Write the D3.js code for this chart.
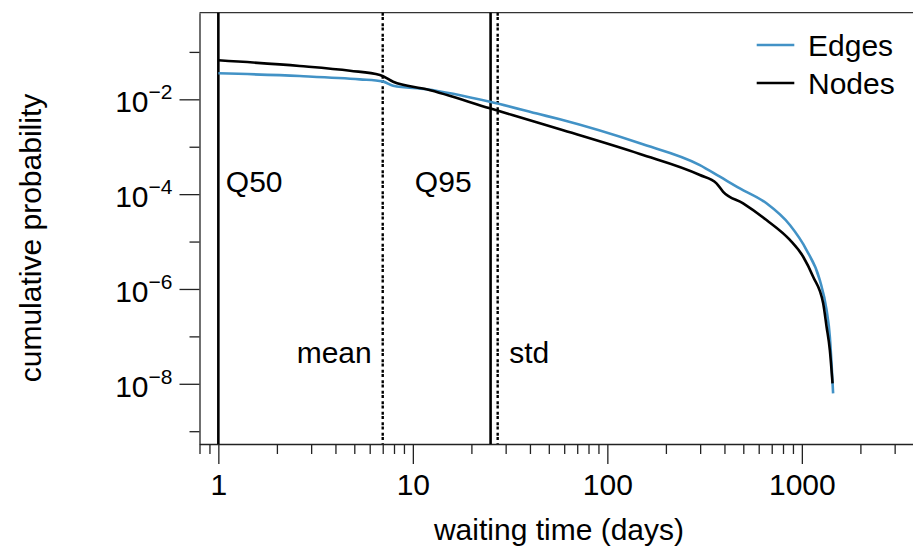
<!DOCTYPE html>
<html lang="en">
<head>
    <meta charset="UTF-8">
    <title>Waiting time distribution</title>
    <style>
        body { margin: 0; background: #fff; }
        text { font-family: "Liberation Sans", Arial, Helvetica, sans-serif; fill: #000; }
    </style>
</head>
<body>
    <svg id="chart" width="913" height="550"></svg>

    <script src="https://cdn.jsdelivr.net/npm/d3@7"></script>
    <script>
        // cumulative distribution (days, probability)
        var edgeDays = [1, 2.62, 5.34, 6.99, 7.92, 11.76, 24.9, 45.0, 57.0, 147, 299, 379, 480, 658, 868, 1057, 1237, 1340, 1393, 1421, 1448];
        var edgeProb = [0.0354, 0.0310, 0.0264, 0.0239, 0.0194, 0.0163, 0.00889, 0.00483, 0.00378, 0.00118,
            4.11e-4, 2.33e-4, 1.32e-4, 6.40e-5, 2.23e-5, 6.62e-6, 1.54e-6, 3.59e-7, 9.82e-8, 2.69e-8, 6.27e-9];

        var nodeDays = [1, 2.62, 4.75, 6.77, 7.92, 11.76, 24.9, 45.0, 57.0, 147, 299, 364, 394, 499, 658, 868, 1016, 1143, 1287, 1340, 1393, 1438];
        var nodeProb = [0.0665, 0.0505, 0.0401, 0.0326, 0.0235, 0.0163, 0.00646, 0.00312, 0.00233, 7.02e-4,
            2.53e-4, 1.69e-4, 1.12e-4, 6.40e-5, 2.84e-5, 1.08e-5, 4.78e-6, 1.81e-6, 4.97e-7, 1.60e-7, 5.14e-8, 1.02e-8];

        var seriesNames = ["Edges", "Nodes"];
        var seriesColors = ["#4292c6", "#000000"];

        var markerNames = ["Q50", "mean", "Q95", "std"];
        var markerValues = [1, 7, 25.1, 27.3];
        var markerDotted = [false, true, false, true];

        var xMajorTicks = [1, 10, 100, 1000];
        var xMinorTicks = [0.8, 0.9, 2, 3, 4, 5, 6, 7, 8, 9, 20, 30, 40, 50, 60, 70, 80, 90,
            200, 300, 400, 500, 600, 700, 800, 900, 2000, 3000];
        var yMajorTicks = [1e-2, 1e-4, 1e-6, 1e-8];
        var yMinorTicks = [1e-1, 1e-3, 1e-5, 1e-7, 1e-9];

        var svg = d3.select("#chart");

        var plotLeft = 199.5, plotTop = 12.7, plotBottom = 444;

        var x = d3.scaleLog()
            .domain([0.8, 4000])
            .range([plotLeft, plotLeft + 194.5 * Math.log10(4000 / 0.8)]);

        var y = d3.scaleLog()
            .domain([Math.pow(10, -9.27), Math.pow(10, -0.173)])
            .range([plotBottom, plotTop]);

        var axisColor = "#222";

        // minor ticks
        svg.append("g")
            .attr("transform", "translate(0," + plotBottom + ")")
            .call(d3.axisBottom(x).tickValues(xMinorTicks).tickSize(10).tickFormat(""))
            .call(g => g.select(".domain").remove());

        svg.append("g")
            .attr("transform", "translate(" + plotLeft + ",0)")
            .call(d3.axisLeft(y).tickValues(yMinorTicks).tickSize(10).tickFormat(""))
            .call(g => g.select(".domain").remove());

        // major x axis
        var xAxis = svg.append("g")
            .attr("transform", "translate(0," + plotBottom + ")")
            .call(d3.axisBottom(x).tickValues(xMajorTicks).tickSize(20).tickSizeOuter(0)
                .tickPadding(10).tickFormat(d => String(d)));
        xAxis.selectAll("text").style("font-size", "30px").attr("font-family", null);

        // major y axis with superscript exponents
        var yAxis = svg.append("g")
            .attr("transform", "translate(" + plotLeft + ",0)")
            .call(d3.axisLeft(y).tickValues(yMajorTicks).tickSize(20).tickSizeOuter(0)
                .tickPadding(7).tickFormat(""));
        yAxis.selectAll(".tick text")
            .attr("dy", "0.42em")
            .style("font-size", "30px")
            .attr("font-family", null)
            .each(function (d) {
                var t = d3.select(this);
                t.text("10");
                t.append("tspan")
                    .attr("dy", -13)
                    .style("font-size", "21px")
                    .text("\u2212" + Math.round(-Math.log10(d)));
            });

        svg.selectAll(".domain, .tick line")
            .attr("stroke", axisColor)
            .attr("stroke-width", 1.3);

        // top frame line
        svg.append("line")
            .attr("x1", plotLeft).attr("x2", x.range()[1])
            .attr("y1", plotTop).attr("y2", plotTop)
            .attr("stroke", "#333")
            .attr("stroke-width", 1.3);

        // statistic markers
        svg.selectAll(".marker")
            .data(markerValues)
            .enter()
            .append("line")
            .attr("class", "marker")
            .attr("x1", d => x(d)).attr("x2", d => x(d))
            .attr("y1", plotTop).attr("y2", plotBottom)
            .attr("stroke", "#000")
            .attr("stroke-width", (d, i) => markerDotted[i] ? 2.4 : 2.6)
            .attr("stroke-dasharray", (d, i) => markerDotted[i] ? "3,1.2,3,3.3" : null);

        var labelDx = [7.5, -11, -19, 11.6];
        var labelAnchor = ["start", "end", "end", "start"];
        var labelY = [192, 363.3, 192, 363.3];
        svg.selectAll(".marker-label")
            .data(markerNames)
            .enter()
            .append("text")
            .attr("class", "marker-label")
            .attr("x", (d, i) => x(markerValues[i]) + labelDx[i])
            .attr("y", (d, i) => labelY[i])
            .attr("text-anchor", (d, i) => labelAnchor[i])
            .style("font-size", "30px")
            .text(d => d);

        // curves
        var line = d3.line()
            .x(d => x(d[0]))
            .y(d => y(d[1]))
            .curve(d3.curveMonotoneX);

        var series = [
            d3.zip(edgeDays, edgeProb),
            d3.zip(nodeDays, nodeProb)
        ];

        svg.selectAll(".curve")
            .data(series)
            .enter()
            .append("path")
            .attr("class", "curve")
            .attr("d", line)
            .attr("fill", "none")
            .attr("stroke", (d, i) => seriesColors[i])
            .attr("stroke-width", 2.6)
            .attr("stroke-linejoin", "round");

        // legend
        var legend = svg.append("g").attr("id", "legend");
        var legendY = [45, 83];
        seriesNames.forEach(function (name, i) {
            legend.append("line")
                .attr("x1", 756.7).attr("x2", 794.3)
                .attr("y1", legendY[i]).attr("y2", legendY[i])
                .attr("stroke", seriesColors[i])
                .attr("stroke-width", 2.6);
            legend.append("text")
                .attr("x", 808)
                .attr("y", legendY[i] + 10.5)
                .style("font-size", "30px")
                .text(name);
        });

        // axis titles
        svg.append("text")
            .attr("x", 559)
            .attr("y", 540)
            .attr("text-anchor", "middle")
            .style("font-size", "30px")
            .text("waiting time (days)");

        svg.append("text")
            .attr("transform", "translate(41,238) rotate(-90)")
            .attr("text-anchor", "middle")
            .style("font-size", "30px")
            .text("cumulative probability");
    </script>
</body>
</html>
